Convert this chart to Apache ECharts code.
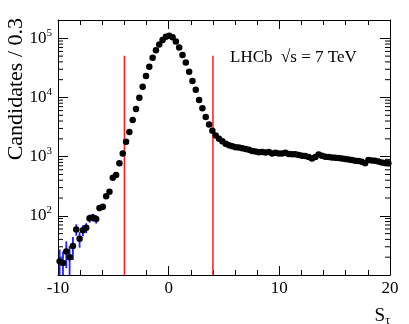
<!DOCTYPE html>
<html>
<head>
<meta charset="utf-8">
<script src="https://cdn.jsdelivr.net/npm/echarts@6/dist/echarts.min.js"></script>
<style>
html, body { margin: 0; padding: 0; background: #fff; }
#chart { width: 409px; height: 324px; }
</style>
</head>
<body>
<div id="chart"></div>
<script>
// histogram binning
const binStart = -10
const binWidth = 0.3

// candidates per 0.3 bin
const counts = [
  17, 16, 25, 20, 31, 59, 41, 57, 63, 91, 94, 88, 136, 142, 214, 255,
  440, 490, 775, 1130, 1780, 2620, 4150, 6400, 9900, 15200, 23000, 33000, 47000, 63000, 79000, 94000,
  106000, 111000, 104000, 88000, 70000, 52000, 39000, 27200, 19000, 13500, 9100, 6550, 4670, 3510, 2740, 2270,
  2000, 1830, 1660, 1560, 1500, 1445, 1425, 1385, 1350, 1305, 1250, 1220, 1185, 1195, 1180, 1195,
  1135, 1160, 1135, 1130, 1160, 1105, 1100, 1095, 1063, 1040, 1022, 983, 935, 983, 1085, 1040,
  995, 983, 970, 960, 946, 930, 910, 893, 875, 853, 842, 820, 775, 880, 865, 850, 825, 800, 785, 775
]
// error bars on the low tail (blue), half widths
const errors = [10, 9, 12, 11, 13, 13, 12, 12, 12, 14, 14, 14, 16, 16, 19, 21]

// selection cuts
const cuts = [-4, 4]
const cutTop = 50800

const yMin = 10
const yMax = 204000
const decades = [10, 100, 1000, 10000, 100000]
const minorMult = [2, 3, 4, 5, 6, 7, 8, 9]

const serif = '"Liberation Serif", "DejaVu Serif", serif'
const chart = echarts.init(document.getElementById('chart'))

const center = i => binStart + binWidth * (i + 0.5)
const points = counts.map((c, i) => [center(i), c])
const bars = errors.map((e, i) => [center(i), counts[i] - e, counts[i] + e])
const yMinor = []
decades.forEach(d => minorMult.forEach(m => { if (d * m <= yMax) yMinor.push([binStart, d * m]) }))

function logLabel(v) {
  const p = Math.log10(v)
  const r = Math.round(p)
  if (Math.abs(p - r) > 1e-6 || r < 2) return ''
  return '{b|10}{s|' + r + '}'
}

const xBase = {
  type: 'value', min: -10, max: 20, interval: 10,
  axisLine: { onZero: false, lineStyle: { color: '#000', width: 1 } },
  axisTick: { inside: true, length: 9, lineStyle: { color: '#000' } },
  minorTick: { show: true, splitNumber: 5, length: 5, lineStyle: { color: '#000' } },
  splitLine: { show: false }
}
const yBase = {
  type: 'log', logBase: 10, min: yMin, max: yMax,
  axisLine: { show: true, onZero: false, lineStyle: { color: '#000', width: 1 } },
  axisTick: { inside: true, length: 10, lineStyle: { color: '#000' } },
  splitLine: { show: false }
}

chart.setOption({
  animation: false,
  grid: { left: 58, right: 19, top: 20, bottom: 49 },
  xAxis: [
    Object.assign({}, xBase, {
      position: 'bottom',
      axisLabel: { color: '#000', fontFamily: serif, fontSize: 17, margin: 5 }
    }),
    Object.assign({}, xBase, { position: 'top', axisLabel: { show: false } })
  ],
  yAxis: [
    Object.assign({}, yBase, {
      position: 'left',
      axisLabel: {
        color: '#000', margin: 6, formatter: logLabel,
        rich: {
          b: { fontFamily: serif, fontSize: 17, lineHeight: 22, color: '#000' },
          s: { fontFamily: serif, fontSize: 11, lineHeight: 12, verticalAlign: 'top', color: '#000' }
        }
      }
    }),
    Object.assign({}, yBase, { position: 'right', axisLabel: { show: false } })
  ],
  series: [
    {
      type: 'custom', clip: false, silent: true, z: 1,
      data: yMinor,
      renderItem: (params, api) => {
        const l = api.coord([-10, api.value(1)])
        const r = api.coord([20, api.value(1)])
        const st = { stroke: '#000', lineWidth: 1 }
        return { type: 'group', children: [
          { type: 'line', shape: { x1: l[0], y1: l[1], x2: l[0] + 5, y2: l[1] }, style: st },
          { type: 'line', shape: { x1: r[0], y1: r[1], x2: r[0] - 5, y2: r[1] }, style: st }
        ] }
      }
    },
    ...cuts.map(c => ({
      type: 'line', symbol: 'none', silent: true, z: 2,
      data: [[c, yMin], [c, cutTop]],
      lineStyle: { color: '#ff1a1a', width: 1.5 }
    })),
    {
      type: 'custom', clip: true, silent: true, z: 3,
      data: bars,
      encode: { x: 0, y: [1, 2] },
      renderItem: (params, api) => {
        const lo = api.coord([api.value(0), api.value(1)])
        const hi = api.coord([api.value(0), api.value(2)])
        return { type: 'line', shape: { x1: lo[0], y1: lo[1], x2: hi[0], y2: hi[1] },
          style: { stroke: '#1f1fff', lineWidth: 1.8 } }
      }
    },
    {
      type: 'scatter', silent: true, z: 4,
      data: points, symbol: 'circle', symbolSize: 6.5,
      itemStyle: { color: '#000', opacity: 1 }
    }
  ],
  graphic: [
    { type: 'text', x: 16, y: 18, rotation: Math.PI / 2,
      style: { text: 'Candidates / 0.3', fontFamily: serif, fontSize: 22, fill: '#000', align: 'right', verticalAlign: 'middle' } },
    { type: 'text', x: 230, y: 58,
      style: { text: 'LHCb  √s = 7 TeV', fontFamily: serif, fontSize: 17, fill: '#000', verticalAlign: 'middle' } },
    { type: 'text', x: 390, y: 316,
      style: { text: '{s|S}{t|τ}', align: 'right', verticalAlign: 'middle',
        rich: {
          s: { fontFamily: serif, fontSize: 19, lineHeight: 22, fill: '#000' },
          t: { fontFamily: serif, fontSize: 12, lineHeight: 12, verticalAlign: 'bottom', fill: '#000' }
        } } }
  ]
})
</script>
</body>
</html>
